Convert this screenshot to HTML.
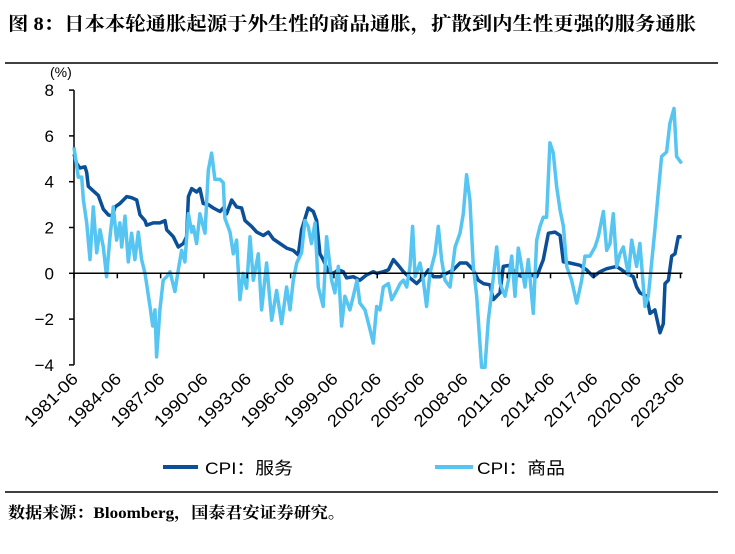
<!DOCTYPE html>
<html><head><meta charset="utf-8">
<style>
body{margin:0;background:#fff;width:735px;height:549px;overflow:hidden;font-family:"Liberation Sans","Noto Sans CJK SC",sans-serif;}
</style></head>
<body>
<svg width="735" height="549" xmlns="http://www.w3.org/2000/svg">
<text x="8" y="30" font-size="19" font-weight="bold" textLength="688" lengthAdjust="spacingAndGlyphs" font-family="'Liberation Serif','Noto Serif CJK SC',serif">图 8：日本本轮通胀起源于外生性的商品通胀，扩散到内生性更强的服务通胀</text>
<line x1="5" y1="63" x2="718" y2="63" stroke="#000" stroke-width="1.5"/>
<text x="50" y="77" font-size="14">(%)</text>
<g id="plot"></g>
<g>
<line x1="163" y1="467" x2="198" y2="467" stroke="#0b4f97" stroke-width="4"/>
<text x="205" y="474" font-size="17" textLength="88" lengthAdjust="spacingAndGlyphs">CPI：服务</text>
<line x1="435" y1="467" x2="473" y2="467" stroke="#56c5f2" stroke-width="4"/>
<text x="477" y="474" font-size="17" textLength="88" lengthAdjust="spacingAndGlyphs">CPI：商品</text>
</g>
<line x1="5" y1="492" x2="718" y2="492" stroke="#000" stroke-width="1.5"/>
<text x="8" y="518" font-size="16" font-weight="bold" textLength="337" lengthAdjust="spacingAndGlyphs" font-family="'Liberation Serif','Noto Serif CJK SC',serif">数据来源：Bloomberg，国泰君安证券研究。</text>
</svg>
<script>
const yTicks=[8,6,4,2,0,-2,-4];
const xTickLabels=["1981-06","1984-06","1987-06","1990-06","1993-06","1996-06","1999-06","2002-06","2005-06","2008-06","2011-06","2014-06","2017-06","2020-06","2023-06"];
const servicesDates=[1981.50,1981.68,1981.91,1982.26,1982.38,1982.49,1982.84,1983.18,1983.53,1983.88,1984.18,1984.34,1984.68,1985.15,1985.49,1985.84,1986.07,1986.42,1986.53,1986.99,1987.45,1987.80,1987.92,1988.38,1988.72,1989.07,1989.30,1989.42,1989.65,1989.99,1990.22,1990.45,1990.80,1991.15,1991.61,1991.84,1992.07,1992.42,1992.76,1993.11,1993.34,1993.80,1994.15,1994.61,1994.96,1995.30,1995.76,1996.22,1996.69,1997.03,1997.26,1997.72,1998.07,1998.30,1998.53,1998.76,1999.11,1999.46,1999.80,2000.15,2000.38,2000.84,2001.30,2001.76,2002.23,2002.46,2002.92,2003.27,2003.62,2003.96,2004.31,2004.77,2005.23,2005.69,2006.04,2006.39,2006.85,2007.31,2007.77,2008.23,2008.69,2009.15,2009.50,2009.85,2010.31,2010.54,2011.00,2011.23,2011.69,2012.16,2012.62,2013.08,2013.54,2014.00,2014.35,2014.81,2015.16,2015.39,2015.85,2016.54,2017.00,2017.46,2017.93,2018.39,2019.08,2019.77,2020.23,2020.46,2020.69,2021.16,2021.39,2021.73,2022.08,2022.31,2022.43,2022.66,2022.89,2023.12,2023.35,2023.58];
const servicesValues=[5.2,4.8,4.6,4.65,4.4,3.8,3.6,3.4,2.8,2.55,2.5,2.9,3.05,3.35,3.3,3.2,2.55,2.3,2.1,2.2,2.2,2.3,1.9,1.6,1.15,1.3,1.6,3.35,3.7,3.55,3.7,3.05,3.0,2.85,2.7,2.85,2.6,3.2,2.9,2.85,2.3,2.05,1.8,1.65,1.8,1.5,1.3,1.1,1.0,0.8,1.9,2.85,2.7,2.3,0.85,0.6,0.07,0,0.15,0.07,-0.2,-0.15,-0.3,-0.07,0.07,0,0.07,0.15,0.6,0.35,0.07,-0.2,-0.45,-0.15,0.15,-0.15,-0.15,0,0.15,0.45,0.45,0.15,-0.3,-0.45,-0.5,-1.15,-0.85,0.3,0.35,-0.07,-0.15,-0.07,-0.15,0.6,1.75,1.8,1.65,0.5,0.45,0.35,0.15,-0.15,0.07,0.2,0.3,0,-0.15,-0.6,-0.85,-1.0,-1.75,-1.6,-2.6,-2.2,-0.45,-0.3,0.75,0.85,1.6,1.6];
const goodsDates=[1981.50,1981.80,1982.03,1982.15,1982.38,1982.61,1982.84,1983.07,1983.30,1983.53,1983.76,1983.99,1984.22,1984.45,1984.68,1984.80,1985.03,1985.26,1985.49,1985.72,1985.95,1986.18,1986.42,1986.76,1986.95,1987.11,1987.22,1987.45,1987.68,1987.92,1988.15,1988.49,1988.72,1988.95,1989.18,1989.42,1989.65,1989.76,1989.99,1990.22,1990.57,1990.80,1991.03,1991.26,1991.61,1991.84,1991.95,1992.30,1992.53,1992.76,1992.99,1993.22,1993.45,1993.69,1993.92,1994.26,1994.49,1994.84,1995.19,1995.53,1995.88,1996.22,1996.46,1996.69,1996.92,1997.26,1997.49,1997.72,1997.95,1998.19,1998.42,1998.76,1998.99,1999.34,1999.57,1999.80,2000.03,2000.26,2000.61,2000.84,2001.10,2001.30,2001.65,2002.00,2002.23,2002.46,2002.69,2002.92,2003.27,2003.50,2003.85,2004.08,2004.31,2004.54,2004.77,2004.95,2005.12,2005.46,2005.69,2005.92,2006.15,2006.50,2006.73,2006.96,2007.19,2007.54,2007.89,2008.23,2008.46,2008.69,2008.92,2009.15,2009.39,2009.73,2009.96,2010.19,2010.42,2010.77,2011.00,2011.35,2011.58,2011.81,2012.04,2012.27,2012.50,2012.73,2012.96,2013.31,2013.54,2013.77,2014.00,2014.23,2014.46,2014.69,2014.92,2015.16,2015.39,2015.62,2015.96,2016.31,2016.66,2016.89,2017.23,2017.58,2017.81,2018.16,2018.39,2018.62,2018.85,2019.08,2019.31,2019.54,2019.89,2020.12,2020.46,2020.69,2021.04,2021.27,2021.50,2021.73,2021.96,2022.19,2022.54,2022.77,2023.05,2023.23,2023.58];
const goodsValues=[5.5,4.2,4.2,3.2,2.2,0.6,2.9,0.9,1.9,1.15,-0.15,1.6,2.9,1.45,2.2,1.15,2.5,0.5,1.75,0.6,1.8,0.6,0,-1.45,-2.3,-1.6,-3.65,-1.6,-0.3,-0.15,0.07,-0.8,0.15,1.0,0.5,2.6,1.8,2.05,1.3,2.6,1.75,4.5,5.25,4.1,4.1,3.95,2.4,1.8,0.85,1.45,-1.15,0,-0.65,1.6,-0.3,0.85,-1.6,0.45,-2.05,-0.75,-2.2,-0.6,-1.6,-0.3,0.45,0.9,2.3,2.05,1.3,2.2,-0.6,-1.45,1.6,-0.3,-0.85,0.3,-2.3,-1.0,-1.6,-1.0,-0.3,-1.3,-1.6,-2.45,-3.05,-1.45,-1.6,-0.6,-0.45,-1.15,-0.75,-0.45,-0.3,-0.6,0.3,2.05,-0.15,0.45,-0.3,-1.45,0,0.85,2.05,0.6,-0.3,-0.6,1.15,1.75,2.6,4.3,3.2,0.3,-1.0,-4.1,-4.1,-2.05,-0.85,1.15,-0.45,-1.0,-0.3,0.75,-1.0,1.1,0.3,-0.6,0.6,-1.75,1.45,2.05,2.45,2.45,5.7,5.25,3.8,2.75,2.05,0.3,-0.3,-1.3,-0.3,0.75,0.75,1.15,1.6,2.7,1.0,1.3,2.6,0.3,0.85,1.15,-0.07,1.45,0.3,1.3,-1.45,-1.0,0.45,1.9,3.5,5.1,5.3,6.55,7.2,5.1,4.8];

const NS='http://www.w3.org/2000/svg';
const x0=74, pxPerYear=14.44, startYear=1981.5;
const yZero=273.3, pxPerUnit=22.9;
function xs(t){return x0+(t-startYear)*pxPerYear;}
function ys(v){return yZero-v*pxPerUnit;}
const plot=document.getElementById('plot');
function mk(tag,attrs){const e=document.createElementNS(NS,tag);for(const k in attrs)e.setAttribute(k,attrs[k]);plot.appendChild(e);return e;}

const yAxis=mk('line',{x1:x0,y1:ys(8),x2:x0,y2:ys(-4),stroke:'#000','stroke-width':1.5});


yTicks.forEach(v=>{
  const t=mk('line',{x1:x0-5,y1:ys(v),x2:x0,y2:ys(v),stroke:'#000','stroke-width':1.5});
  
  
  const l=mk('text',{x:x0-20,y:ys(v)+6,'font-size':17,'text-anchor':'end'});
  l.textContent=v===0?'0':(v<0?'−'+(-v):String(v));
  
  
});

function series(dates,vals,color,name){
  let d='';
  dates.forEach((t,i)=>{d+=(i?'L':'M')+xs(t).toFixed(1)+','+ys(vals[i]).toFixed(1);});
  const p=mk('path',{d:d,fill:'none',stroke:color,'stroke-width':3.5,'stroke-linejoin':'round'});
  
  
}
series(servicesDates,servicesValues,'#0b4f97','series-services');
series(goodsDates,goodsValues,'#56c5f2','series-goods');

const xAxis=mk('line',{x1:x0,y1:yZero,x2:xs(2023.5)+2,y2:yZero,stroke:'#000','stroke-width':1.5});


xTickLabels.forEach((lab,i)=>{
  const t=startYear+3*i, x=xs(t);
  const tk=mk('line',{x1:x,y1:yZero,x2:x,y2:yZero+5,stroke:'#000','stroke-width':1.5});
  
  
  const l=mk('text',{x:x+5,y:380,'font-size':17,textLength:68,lengthAdjust:'spacingAndGlyphs','text-anchor':'end',transform:'rotate(-45 '+(x+5)+' 380)'});
  l.textContent=lab;
  
  
});
</script>
</body></html>
